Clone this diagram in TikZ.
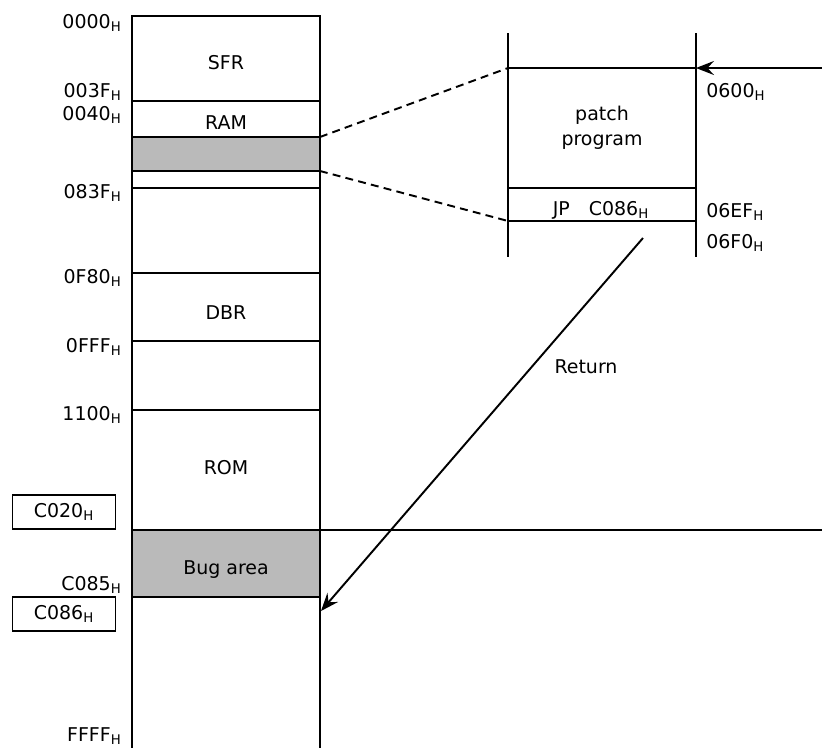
\documentclass[tikz,border=0pt]{standalone}
\usepackage{fontspec}
\setmainfont{DejaVu Sans}
\usetikzlibrary{positioning, arrows.meta, calc}

\newcommand{\addr}[1]{#1\textsubscript{H}}

\begin{document}
\begin{tikzpicture}[
    x=0.02cm, y=-0.02cm,
    font=\fontsize{10.8}{12.8}\selectfont,
    memcell/.style={
        draw,
        line width=1.1pt,
        anchor=north west,
        inner sep=0pt,
        outer sep=0pt,
        minimum width=3.76cm
    },
    shaded/.style={
        fill=black!27
    },
    celltext/.style={
        inner sep=0pt
    },
    addrlabel/.style={
        anchor=east,
        inner sep=0pt
    },
    addrright/.style={
        anchor=west,
        inner sep=0pt
    },
    addrbox/.style={
        draw,
        line width=1.1pt,
        inner sep=0pt,
        minimum width=2.06cm,
        minimum height=0.68cm
    },
    memline/.style={
        line width=1.1pt
    },
    zoomline/.style={
        line width=1.1pt,
        dash pattern=on 4.5pt off 3pt
    },
    flowarrow/.style={
        -{Stealth[length=3.6mm, width=2.8mm, inset=1.3mm]},
        line width=1.1pt
    }
]
\useasboundingbox (0,0) rectangle (822,748);

% --- Memory map column -----------------------------------------------------
\node[memcell, minimum height=1.70cm] (sfr)      at (132,16)  {};
\node[memcell, minimum height=0.72cm] (ram)      at (132,101) {};
\node[memcell, minimum height=0.68cm, shaded] (patchram) at (132,137) {};
\node[memcell, minimum height=0.34cm] (ramrest)  at (132,171) {};
\node[memcell, minimum height=1.70cm] (free1)    at (132,188) {};
\node[memcell, minimum height=1.36cm] (dbr)      at (132,273) {};
\node[memcell, minimum height=1.38cm] (free2)    at (132,341) {};
\node[memcell, minimum height=2.40cm] (rom)      at (132,410) {};
\node[memcell, minimum height=1.34cm, shaded] (bug) at (132,530) {};

\node[celltext] (sfrtext) at (226,63)  {SFR};
\node[celltext] (ramtext) at (226,123) {RAM};
\node[celltext] (dbrtext) at (226,313) {DBR};
\node[celltext] (romtext) at (226,468) {ROM};
\node[celltext] (bugtext) at (226,570) {Bug area};

% open bottom of the map
\coordinate (mapbottom) at (0,748);
\draw[memline] (bug.south west) -- (bug.south west |- mapbottom);
\draw[memline] (bug.south east) -- (bug.south east |- mapbottom);

% C020 boundary runs out to the right
\coordinate (c020end) at (822,530);
\draw[memline] (bug.north east) -- (c020end);

% --- Addresses left of the map ---------------------------------------------
\node[addrlabel] (a0000) at (122,23)  {\addr{0000}};
\node[addrlabel] (a003f) at (122,92)  {\addr{003F}};
\node[addrlabel] (a0040) at (122,115) {\addr{0040}};
\node[addrlabel] (a083f) at (122,193) {\addr{083F}};
\node[addrlabel] (a0f80) at (122,278) {\addr{0F80}};
\node[addrlabel] (a0fff) at (122,347) {\addr{0FFF}};
\node[addrlabel] (a1100) at (122,415) {\addr{1100}};
\node[addrlabel] (ac085) at (122,585) {\addr{C085}};
\node[addrlabel] (affff) at (122,736) {\addr{FFFF}};

\node[addrbox] (bc020) at (64,512) {\addr{C020}};
\node[addrbox] (bc086) at (64,614) {\addr{C086}};

% --- Patch program block ---------------------------------------------------
\node[memcell, minimum height=2.40cm] (patch) at (508,68) {};
\node[memcell, minimum height=0.66cm] (jp) at (508,188) {};

\node[celltext] (patchtext) at (602,115) {patch};
\node[celltext] (progtext)  at (602,142) {program};
\node[celltext] (jptext)    at (601,210) {JP\quad\addr{C086}};

\coordinate (blocktop) at (0,33);
\coordinate (blockbot) at (0,257);
\draw[memline] (patch.north west |- blocktop) -- (patch.north west |- blockbot);
\draw[memline] (patch.north east |- blocktop) -- (patch.north east |- blockbot);

\node[addrright] (a0600) at (706,92)  {\addr{0600}};
\node[addrright] (a06ef) at (706,212) {\addr{06EF}};
\node[addrright] (a06f0) at (706,243) {\addr{06F0}};

% --- Zoom lines from RAM patch area ----------------------------------------
\draw[zoomline] (patchram.north east) -- (patch.north west);
\draw[zoomline] (patchram.south east) -- (jp.south west);

% --- Jump into patch, return to ROM ----------------------------------------
\coordinate (entry) at (822,68);
\draw[flowarrow] (entry) -- (patch.north east);

\coordinate (retstart) at (643,238);
\coordinate (retend) at (321,611);
\draw[flowarrow] (retstart) -- (retend);
\node (ret) at (586,367) {Return};

\end{tikzpicture}
\end{document}
